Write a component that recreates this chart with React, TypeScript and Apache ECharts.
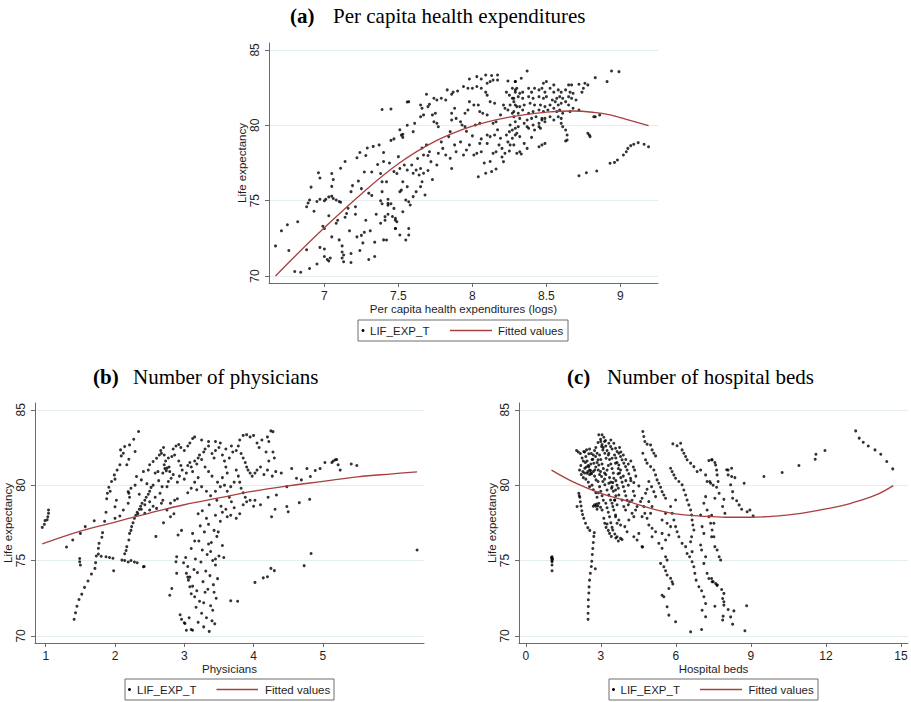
import React, { useEffect, useRef } from 'react';
import * as echarts from 'echarts';

// ---------- Panel (a): per capita health expenditures (logs) ----------
const aPoints: number[][] = [
  [6.67,72.0],[6.71,73.0],[6.75,73.4],[6.76,71.7],[6.8,70.3],[6.82,73.6],[6.84,70.25],[6.88,71.75],[6.88,74.6],[6.89,74.85],[6.9,70.5],[6.9,75.05],[6.91,75.9],[6.93,74.3],[6.96,76.85],[6.97,76.5],[6.97,71.9],[6.95,74.95],[6.97,75.1],[6.99,73.3],[6.95,70.8],
  [7.0,75.0],[7.01,75.1],[7.03,75.25],[7.05,75.3],[7.06,75.15],[7.08,75.05],[7.1,74.95],[7.11,74.9],[7.0,71.3],[7.02,71.1],[7.04,71.2],[7.03,71.0],[7.0,73.15],[7.03,74.0],[7.05,75.95],[7.05,76.8],[7.06,76.4],[7.0,71.8],[7.05,72.6],[7.08,73.5],[7.09,73.7],[7.1,72.4],
  [7.11,77.15],[7.12,71.6],[7.12,71.2],[7.13,70.95],[7.13,71.4],[7.14,77.6],[7.15,74.15],[7.17,73.0],[7.18,71.5],[7.18,75.6],[7.18,70.9],[7.14,73.9],[7.12,72.0],[7.16,74.5],[7.19,76.0],
  [7.21,74.6],[7.21,74.1],[7.22,77.85],[7.23,76.3],[7.24,78.2],[7.25,72.7],[7.26,72.2],[7.27,72.9],[7.28,78.0],[7.29,78.5],[7.3,75.5],[7.27,76.9],[7.28,73.7],[7.22,72.6],[7.25,75.8],[7.3,71.1],[7.24,71.7],
  [7.31,73.0],[7.32,76.9],[7.32,75.35],[7.34,72.25],[7.35,74.1],[7.37,78.7],[7.38,73.5],[7.38,75.0],[7.39,76.25],[7.39,75.6],[7.39,74.8],[7.4,72.4],[7.41,73.7],[7.33,78.6],[7.34,71.3],[7.39,81.05],[7.36,77.4],
  [7.42,76.25],[7.43,74.7],[7.43,75.1],[7.43,74.1],[7.44,77.5],[7.45,74.8],[7.46,73.95],[7.47,79.1],[7.48,73.15],[7.48,73.7],[7.49,76.8],[7.4,78.2],[7.45,79.0],[7.4,77.6],[7.38,76.8],[7.47,76.93],[7.5,77.92],[7.51,77.14],[7.54,77.37],[7.56,77.03],[7.59,77.37],[7.6,76.82],[7.62,77.03],[7.64,76.7],[7.65,77.14],[7.66,76.26],[7.67,76.82],[7.65,75.93],[7.68,75.38],[7.53,76.26],[7.56,75.93],[7.52,75.7],[7.51,75.6],[7.55,75.04],[7.57,74.93],[7.58,74.71],[7.6,75.27],[7.47,74.49],[7.43,74.82],[7.41,73.94],[7.48,73.83],[7.49,73.6],[7.53,74.27],[7.48,73.16],[7.57,73.16],[7.57,72.72],[7.51,72.72],[7.55,72.39],[7.42,72.39],
  [7.51,79.7],[7.52,79.35],[7.56,81.55],[7.56,80.0],[7.53,79.4],[7.53,79.2],[7.57,81.57],[7.61,80.13],[7.6,79.58],[7.45,81.08],
  [7.66,78.5],[7.67,78.03],[7.69,78.7],[7.71,78.25],[7.72,77.59],[7.76,77.37],[7.77,78.14],[7.79,78.9],[7.8,78.47],[7.82,78.03],[7.85,77.81],[7.86,77.14],[7.88,78.7],[7.89,78.25],[7.92,78.9],[7.94,78.03],[7.96,78.36],[7.98,78.7],[8.01,78.03],[8.03,78.14],[8.04,76.59],[8.05,78.8],[8.06,78.25],[8.09,76.82],[8.1,78.8],[8.12,79.25],[8.13,76.93],[8.14,78.14],[8.15,79.36],[8.16,78.25],[8.18,78.7],[8.19,79.14],[8.2,78.47],[8.21,77.59],[8.22,78.14],[8.23,79.36],[8.24,78.9],[8.25,79.58],[8.27,79.14],[8.28,78.7],[8.3,78.14],[8.29,79.8],[8.1,79.36],
  [8.12,77.6],[8.2,77.9],[8.25,78.3],[8.33,78.1],[8.35,78.8],[8.4,79.2],[8.17,79.7],[8.06,79.1],[8.0,79.3],[7.96,79.6],[8.08,77.5],[8.16,77.1],[7.7,77.0],[7.73,76.4],[7.62,75.6],[7.7,78.0],[7.63,77.8],
  [7.65,80.57],[7.67,80.69],[7.73,80.69],[7.75,80.8],[7.74,80.24],[7.76,80.13],[7.77,79.9],[7.86,80.8],[7.88,81.13],[7.89,80.46],[7.92,80.24],[7.93,80.02],[7.95,80.8],[7.97,81.02],[7.98,81.57],[8.01,81.35],[8.04,81.35],[8.05,80.91],[8.07,80.8],[8.1,80.69],[8.12,81.57],[8.15,81.46],[8.16,80.24],[8.19,80.69],[8.21,81.35],[8.22,81.13],[8.24,81.02],[8.27,80.8],[8.3,81.24],[7.86,80.35],[7.85,79.58],[7.84,79.25],[7.95,79.91],[8.02,80.02],[8.05,80.13],[8.14,80.13],
  [7.98,83.07],[8.03,83.23],[8.06,83.07],[8.09,83.34],[8.13,83.3],[8.17,83.34],[8.1,82.79],[8.12,82.9],[8.14,83.0],[8.17,83.0],[8.24,82.94],[8.29,82.9],[8.3,82.46],[7.94,82.57],[7.97,82.46],[8.0,82.46],[8.03,82.57],[8.06,82.46],[8.09,82.2],[8.1,82.0],[7.83,82.35],[7.86,82.06],[7.9,82.28],[7.87,82.2],[7.79,81.8],[7.82,81.68],[7.76,81.68],[7.74,81.8],[7.71,81.4],[7.7,81.24],[7.65,81.35],[7.66,81.13],[8.23,82.2],[8.25,82.0],[8.27,81.8],[8.28,81.57],[8.29,82.2],[7.69,82.06],
  [8.37,83.6],[8.94,83.6],[8.99,83.56],[8.83,83.16],[8.91,82.9],[8.33,83.12],[8.29,82.9],[8.48,82.79],[8.5,82.9],[8.55,82.68],[8.65,82.68],[8.67,82.68],[8.72,82.72],[8.76,82.79],[8.78,82.68],[8.75,82.46],[8.74,82.2],
  [8.27,82.46],[8.29,82.35],[8.32,82.12],[8.34,82.2],[8.38,82.46],[8.4,82.2],[8.42,82.46],[8.45,82.35],[8.47,82.46],[8.49,82.2],[8.525,82.46],[8.55,82.2],[8.58,82.35],[8.6,82.2],[8.63,82.35],[8.66,82.2],[8.68,82.12],
  [8.28,81.79],[8.31,81.9],[8.34,81.79],[8.38,81.9],[8.41,81.79],[8.45,81.9],[8.48,81.79],[8.5,81.9],[8.54,81.68],[8.57,81.79],[8.59,81.9],[8.61,81.79],[8.65,81.9],[8.67,81.79],[8.7,81.68],
  [8.255,81.35],[8.29,81.35],[8.32,81.24],[8.35,81.35],[8.39,81.46],[8.42,81.35],[8.46,81.35],[8.49,81.24],[8.525,81.35],[8.56,81.57],[8.58,81.35],[8.6,81.46],[8.63,81.57],[8.65,81.35],[8.68,81.13],
  [8.28,80.91],[8.31,80.8],[8.34,81.02],[8.38,80.8],[8.41,80.91],[8.45,81.02],[8.48,80.91],[8.51,81.02],[8.55,81.13],[8.57,80.91],[8.59,81.02],[8.61,80.8],[8.66,80.91],[8.72,81.02],[8.82,80.57],[8.86,80.69],[8.83,80.57],
  [8.28,80.57],[8.32,80.46],[8.37,80.35],[8.4,80.46],[8.43,80.57],[8.47,80.46],[8.49,80.24],[8.525,80.57],[8.55,80.35],[8.58,80.57],[8.6,80.46],
  [8.255,80.02],[8.29,80.24],[8.31,79.91],[8.35,80.13],[8.38,79.8],[8.41,80.02],[8.45,80.13],[8.47,80.35],[8.49,80.46],
  [8.27,79.69],[8.3,79.47],[8.32,79.25],[8.29,79.36],[8.37,79.91],[8.42,79.69],[8.45,79.91],[8.46,79.8],
  [8.6,80.13],[8.61,79.91],[8.63,79.69],[8.64,79.36],[8.64,79.03],[8.63,78.96],[8.49,78.8],[8.47,78.7],[8.45,78.58],[8.255,78.7],[8.32,78.25],[8.37,78.47],[8.78,79.47],[8.795,79.25],[8.79,79.36],
  [8.72,76.65],[8.77,76.85],[8.84,76.97],[8.93,77.48],[8.96,77.54],[8.98,77.7],[9.02,78.03],[9.04,78.25],[9.05,78.47],[9.07,78.65],[9.09,78.74],[9.12,78.85],[9.16,78.74],[9.19,78.58]
];
const aFit: number[][] = [
  [6.67,70.0],[6.8,71.3],[7.0,73.2],[7.25,75.45],[7.5,77.45],[7.75,78.95],[8.0,79.95],[8.25,80.55],[8.5,80.87],[8.68,80.95],[8.82,80.86],[8.93,80.69],[9.04,80.4],[9.19,79.98]
];

// ---------- Panel (b): physicians ----------
const bPoints: number[][] = [
  [0.95,77.2],[0.98,77.4],[0.99,77.65],[1.04,78.35],[1.04,78.13],[1.03,77.9],[1.02,77.7],
  [1.3,75.9],[1.39,76.36],[1.5,76.8],[1.57,77.25],[1.7,77.64],
  [1.49,75.14],[1.49,74.92],[1.5,74.7],
  [1.41,71.1],[1.43,71.53],[1.45,71.97],[1.48,72.42],[1.52,72.77],[1.56,73.22],[1.61,73.64],[1.66,74.1],[1.71,74.48],[1.72,74.86],[1.76,75.43],[1.76,75.81],[1.77,76.14],[1.81,76.54],[1.82,76.85],[1.85,77.6],[1.87,78.2],[1.88,79.1],[1.89,79.46],[1.91,79.86],[1.93,79.6],[1.95,80.24],[2.0,80.4],[1.99,80.68],[2.03,81.0],[2.07,81.35],[2.09,81.94],[2.08,82.34],[2.12,82.12],[2.14,82.56],[2.21,82.67],[2.27,83.05],[2.34,83.56],[2.29,82.23],[2.2,81.72],[2.17,81.35],
  [1.73,75.3],[1.8,75.28],[1.87,75.25],[1.92,75.2],[1.97,75.15],[1.98,74.32],
  [2.1,75.03],[2.14,75.0],[2.19,74.9],[2.23,75.0],[2.28,74.9],[2.32,74.85],[2.41,74.59],[2.14,75.45],[2.16,75.67],[2.17,75.92],[2.2,76.36],[2.21,76.8],[2.23,77.0],[2.24,77.25],[2.26,77.5],[2.28,77.8],[2.3,78.0],[2.32,78.2],[2.35,78.4],[2.37,78.6],[2.39,78.8],[2.43,79.0],[2.45,79.2],[2.48,79.4],[2.5,79.6],[2.52,79.85],[2.55,80.0],
  [2.0,77.8],[2.07,77.95],[2.12,78.35],[2.19,78.8],[2.21,79.2],[2.2,79.46],[2.23,79.8],[2.29,80.0],[2.31,80.57],[2.38,80.35],[2.41,80.9],[2.48,81.0],[2.5,81.35],[2.55,81.57],[2.6,81.79],[2.64,82.0],[2.67,82.12],[2.71,82.0],[2.77,81.8],[2.82,81.9],[2.86,82.0],[2.71,81.35],[2.75,81.13],[2.79,80.9],[2.81,80.46],[2.77,80.24],[2.75,79.9],[2.65,79.46],[2.58,79.2],[2.5,78.9],[2.43,78.7],[2.38,78.4],[2.33,78.1],[2.43,78.13],[2.5,78.35],[2.55,78.6],[2.6,78.46],[2.67,78.8],[2.69,79.0],[2.75,78.35],[2.8,78.8],[2.86,79.0],[2.9,79.1],[2.58,80.8],[2.62,80.9],[2.69,80.8],[2.0,78.57],[2.02,79.0],[2.19,79.57],[2.59,76.6],[2.42,74.6],[2.72,81.1],[2.74,80.95],[2.78,81.2],[2.7,77.5],[2.8,77.9],[2.85,78.1],
  [2.66,82.3],[2.7,82.5],[2.73,81.6],[2.84,82.4],[2.88,82.6],[2.63,80.3],[2.68,79.9],[2.84,80.7],[2.46,80.1],[2.35,79.4],[2.92,81.6],[2.95,81.3],
  [2.94,71.4],[2.96,71.1],[3.0,70.87],[3.03,70.38],[3.07,71.2],[3.1,70.43],[2.79,72.7],[2.82,73.15],[2.89,75.25],[2.91,76.69],[2.96,77.0],[2.99,74.85],[3.03,74.15],[3.06,73.7],[3.08,73.26],[3.05,73.9],[3.1,72.8],[2.88,74.92],[2.89,74.15],[3.01,70.82],[3.12,70.38],
  [3.02,75.2],[3.05,74.6],[3.08,73.9],[3.1,75.8],[3.12,73.3],[3.14,74.4],[3.15,72.6],[3.17,71.9],[3.18,73.0],[3.2,70.9],[3.21,76.3],[3.22,72.3],[3.24,74.9],[3.25,71.5],[3.26,75.7],[3.27,73.6],[3.28,70.6],[3.29,76.9],[3.3,72.9],[3.31,74.3],[3.32,71.2],[3.33,75.4],[3.34,73.1],[3.35,77.4],[3.36,70.3],[3.37,74.0],[3.38,72.0],[3.39,76.2],[3.4,71.0],[3.41,75.0],[3.42,73.4],[3.43,77.0],[3.44,70.8],[3.45,74.7],[3.46,72.5],[3.47,76.6],[3.48,73.8],[3.5,75.3],[3.52,77.6],[3.55,76.0],[3.57,75.2],[3.19,74.2],[3.23,77.3],[3.16,75.1],[3.28,72.2],[3.35,76.1],[3.41,71.7],[3.43,72.9],[3.38,75.6],[3.32,77.8],[3.26,78.3],[3.45,78.0],[3.49,76.9],[3.12,76.8],[3.2,78.1],[3.36,78.7],[3.47,79.0],[3.53,78.6],
  [3.67,72.33],[3.77,72.3],[3.45,75.1],[3.15,76.3],
  [3.0,80.4],[3.03,80.8],[3.05,81.3],[3.08,81.5],[3.1,81.2],[3.12,80.9],[3.15,81.6],[3.18,81.4],[3.2,81.8],[3.22,82.0],[3.25,81.7],[3.28,82.2],[3.3,82.4],[3.35,82.6],[3.4,82.1],[3.43,81.8],[3.45,82.3],[3.5,82.5],[3.52,82.8],[3.55,82.0],[3.58,81.6],[3.6,81.2],[3.65,81.8],[3.7,82.2],[3.62,80.8],[3.55,80.5],[3.48,80.2],[3.4,80.6],[3.35,80.9],[3.3,81.2],[3.2,80.5],[3.15,80.2],[3.1,79.8],[3.05,79.5],[3.18,79.7],[3.25,79.9],[3.32,79.6],[3.38,79.3],[3.45,79.6],[3.52,79.9],[3.58,80.0],[3.62,79.6],[3.67,79.9],[3.72,80.2],[3.0,82.3],[3.05,82.6],[3.08,82.8],[3.12,83.1],[3.15,83.2],[2.95,82.5],[2.92,82.7],[2.97,81.0],[2.93,80.6],[2.9,80.2],[3.25,83.0],[3.35,82.9],[3.45,82.9],[3.6,82.4],[3.68,82.6],[3.75,82.3],[3.78,82.6],[3.8,83.0],[3.85,83.3],[3.9,83.35],[3.95,83.2],[3.82,82.1],[3.85,81.8],[3.88,81.5],[3.9,81.2],[3.92,81.0],[3.95,80.8],[3.98,80.6],[4.02,80.8],[4.05,81.0],[4.1,81.2],[4.15,80.7],[4.2,81.0],[4.22,82.9],[4.25,83.6],[4.28,83.55],[4.2,83.2],[4.12,83.0],[4.05,82.8],[4.0,83.3],[4.08,82.5],[4.18,82.2],[4.22,81.6],[4.28,82.2],[4.3,81.8],[4.27,80.6],[4.32,80.9],
  [3.75,81.0],[3.78,80.6],[3.8,80.2],[3.82,79.8],[3.85,79.5],[3.88,79.2],[3.9,78.9],[3.95,79.0],[4.02,79.0],[3.85,78.7],[3.8,78.1],[3.72,78.5],[3.68,78.9],[3.65,79.2],[3.6,78.4],[3.55,78.2],[3.62,77.9],[3.67,78.0],[3.75,77.8],[4.0,78.6],[4.1,78.7],[4.21,79.2],[4.33,79.35],[4.26,77.9],[4.31,78.4],
  [4.4,80.8],[4.48,79.9],[4.55,81.1],[4.62,80.46],[4.69,80.35],[4.77,81.1],[4.82,80.57],[4.89,80.97],[4.96,81.1],[5.03,81.5],[5.13,81.5],[5.18,81.68],[5.22,81.35],[5.25,81.0],[5.41,81.4],[5.49,81.3],[5.15,81.6],[5.2,81.7],
  [4.48,78.58],[4.5,78.24],[4.66,78.84],[4.81,79.06],
  [4.02,73.55],[4.14,73.85],[4.2,73.92],[4.25,74.48],[4.3,74.33],[4.73,74.66],[4.83,75.47],[6.36,75.7]
];
const bFit: number[][] = [
  [0.95,76.1],[1.5,76.95],[2.0,77.55],[2.5,78.15],[3.0,78.7],[3.5,79.15],[4.0,79.6],[4.5,79.95],[5.0,80.25],[5.5,80.55],[6.0,80.75],[6.36,80.88]
];

// ---------- Panel (c): hospital beds ----------
const cPoints: number[][] = [
  [1.05,75.25],[1.05,75.15],[1.05,75.08],[1.05,75.0],[1.05,74.92],[1.03,75.2],[1.07,75.1],[1.05,74.7],[1.05,74.32],
  [2.05,78.58],[2.12,79.46],[2.14,79.3],[2.16,79.2],[2.18,78.9],[2.21,78.62],[2.24,78.3],[2.27,78.05],[2.32,77.8],[2.39,77.47],[2.48,77.18],[2.56,77.0],
  [2.49,71.1],[2.49,71.5],[2.5,71.95],[2.5,72.4],[2.52,72.85],[2.53,73.25],[2.55,73.7],[2.58,74.15],[2.62,74.6],[2.64,74.95],[2.66,75.4],[2.68,75.8],[2.7,76.2],[2.72,76.6],[2.74,76.85],[2.78,74.45],
  [2.32,82.23],[2.43,82.34],[2.52,82.08],[2.36,81.12],[2.45,80.79],[2.52,81.23],[2.59,80.97],[2.63,80.75],[2.68,81.72],[2.72,81.45],[2.76,81.01],[2.79,81.9],[2.85,82.12],[2.89,82.83],[2.92,83.34],[2.99,83.05],[3.05,83.34],[3.12,83.18],[3.19,82.96],[3.03,82.56],[3.08,82.34],[3.16,82.12],[3.21,81.79],[2.89,81.68],[2.92,81.34],[2.99,80.9],[3.03,80.57],[3.08,80.24],[3.16,80.02],[3.25,79.68],[3.32,79.35],[3.39,79.02],[3.45,78.8],[3.52,78.35],[3.59,77.91],[3.65,77.47],[2.81,80.35],[2.89,80.24],
  [3.32,82.78],[3.39,82.56],[3.52,82.78],[3.59,82.45],[3.65,82.23],[3.72,82.12],[3.79,81.9],[3.85,81.68],[3.92,81.46],[3.99,81.23],[4.05,81.01],[4.12,80.75],[4.19,80.46],[4.32,80.17],[4.52,79.95],[3.32,82.12],[3.45,81.79],[3.59,81.46],[3.72,81.34],[3.79,81.01],[3.69,80.75],[3.52,80.46],[3.48,80.17],[3.32,80.13],[3.43,79.79],[3.59,79.68],[3.72,79.35],[3.85,79.02],[3.92,78.58],[3.99,78.35],[3.56,79.02],[3.48,78.58],[3.59,78.02],[3.72,77.69],[3.79,77.36],[3.48,77.03],[3.56,76.76],[3.65,76.58],[3.79,76.47],[3.96,77.25],[4.05,76.91],[4.12,77.69],[4.25,78.13],[4.32,77.91],[4.39,78.35],[4.45,78.58],[4.59,78.91],[4.65,79.13],[4.72,78.58],[4.76,78.13],[4.65,77.91],[4.52,76.8],[4.45,76.36],[4.32,76.58],[4.65,75.92],
  [2.92,78.8],[2.99,78.53],[3.05,78.35],[3.12,77.8],[3.16,77.47],[3.21,77.2],[3.25,77.42],[2.83,78.75],[2.88,78.62],
  [4.68,83.56],[4.72,83.23],[4.76,82.9],[4.85,82.72],[4.99,82.67],[5.05,82.34],[5.12,82.12],[5.19,81.94],[4.68,82.12],[4.79,81.68],[4.85,81.46],[4.99,81.23],[5.12,81.01],[5.19,80.68],[5.25,80.35],[5.32,80.13],[5.39,79.86],[5.45,79.57],[5.52,79.35],[5.59,79.13],[5.19,79.24],[5.12,79.57],[5.03,79.9],[4.92,80.24],[4.85,79.73],[4.79,79.46],[4.92,78.91],[5.05,78.58],[4.99,78.13],[4.85,77.8],[4.92,77.36],[5.05,77.14],[5.19,76.91],[5.05,76.58],[5.32,76.14],[5.45,75.81],[5.59,75.25],[5.65,75.03],[5.39,74.81],[5.52,74.59],[5.59,74.32],[5.65,74.04],[5.79,73.82],[5.85,73.59],[5.88,73.44],[5.72,73.15],[5.45,72.7],[5.52,72.6],[5.65,71.93],[5.72,71.38],[5.99,70.94],[6.59,70.27],
  [5.79,81.12],[5.85,80.9],[5.92,80.68],[5.99,80.46],[6.12,80.24],[6.25,80.02],[6.32,79.68],[6.39,79.35],[6.45,79.02],[6.52,78.69],[6.59,78.35],[6.63,78.02],[6.65,77.69],[6.68,77.36],[6.72,77.03],[6.63,76.58],[6.59,76.25],[6.65,75.59],[6.55,75.25],[6.65,74.92],[6.72,74.59],[6.76,74.15],[6.81,73.7],[6.92,73.26],[7.03,73.0],[7.12,72.6],[7.19,72.15],[7.05,71.7],[7.19,71.27],[7.03,70.43],
  [5.88,82.74],[6.05,82.61],[6.19,82.78],[6.25,82.34],[6.32,82.12],[6.39,81.9],[6.45,81.68],[6.59,81.46],[6.72,81.23],[6.85,80.9],[6.99,81.01],[7.19,80.68],[7.32,81.63],[7.45,81.68],[7.59,81.34],[7.39,80.13],[7.25,80.24],[7.19,79.24],[7.12,78.8],[7.25,78.35],[7.32,77.91],[7.39,77.47],[7.45,77.03],[7.52,76.58],[6.99,78.02],[7.05,77.25],[7.12,76.8],[6.99,76.03],[7.03,75.7],[7.19,75.25],[7.12,74.81],[7.25,74.15],[7.32,73.81],[7.45,73.59],[7.59,73.48],[7.65,73.37],
  [5.99,79.02],[5.79,78.58],[5.85,78.13],[5.92,77.69],[5.99,77.25],[6.05,76.91],[6.12,76.58],[6.25,76.14],[6.39,75.92],[6.45,75.47],[5.59,78.13],[5.45,77.69],[5.65,77.47],[5.79,77.25],[5.45,76.8],[5.59,76.36],[5.72,76.69],[4.67,75.9],
  [2.35,82.2],[2.4,81.9],[2.45,81.6],[2.5,81.3],[2.55,81.0],[2.6,80.8],[2.38,81.5],[2.42,81.2],[2.48,80.9],[2.55,80.7],[2.6,81.4],[2.65,81.7],[2.7,82.0],[2.75,82.3],[2.8,82.5],[2.62,82.1],[2.55,82.4],[2.7,80.9],[2.75,80.6],[2.8,81.2],[2.85,81.5],[2.9,81.0],[2.95,80.7],[2.95,82.0],[3.0,81.7],[3.05,81.4],[3.1,81.1],[3.15,80.8],[3.0,82.9],[3.05,82.7],[3.1,82.5],[3.15,82.9],[3.2,82.6],[3.25,82.3],[3.3,82.0],[3.35,81.7],[3.4,81.4],[3.45,81.1],[3.5,80.8],[3.3,81.3],[3.25,81.0],[3.2,80.7],[3.15,80.4],[3.35,80.5],[3.4,80.2],[3.45,79.9],[3.5,79.6],[3.6,80.3],[3.65,80.0],[3.7,79.8],[3.4,83.0],[3.45,82.4],[3.55,82.0],[3.6,81.8],[3.65,81.5],[3.7,81.1],[3.75,80.8],[3.8,80.5],[3.85,80.2],[3.9,79.9],[3.95,79.6],[4.0,79.3],[4.05,79.0],[4.1,78.7],[3.75,82.5],[3.8,82.2],[3.9,82.0],[4.0,81.7],[4.1,81.4],[4.2,81.6],[4.3,81.2],[4.35,81.0],[4.4,80.6],[4.2,80.3],[4.1,80.0],[4.0,80.3],[3.9,80.6],[4.3,79.6],[4.35,79.3],[4.25,79.0],[4.15,78.9],[3.6,79.3],[3.55,79.0],[3.65,78.7],
  [2.03,82.3],[2.1,82.2],[2.18,82.1],[2.25,81.8],[2.3,81.6],[2.2,81.3],[2.15,81.0],[2.22,80.7],[2.28,80.9],[2.35,80.8],[2.3,80.5],[2.4,80.4],[2.5,80.2],[2.55,79.9],[2.65,80.0],[2.7,79.7],[2.8,79.5],[2.85,79.2],[2.9,79.5],[2.95,79.9],[3.0,79.6],[3.05,79.3],[3.1,79.0],[3.2,78.8],[3.25,78.5],[3.3,78.2],[3.35,77.9],[3.4,77.5],[3.45,77.2],[3.3,77.0],[3.35,76.8],[3.42,76.6],[3.6,76.5],[3.7,76.3],[3.85,76.4],[2.8,78.6],[2.85,78.4],[2.75,78.7],[2.7,78.6],
  [7.43,81.68],[7.56,81.5],[7.63,81.0],[7.65,80.68],[7.69,80.24],[7.49,80.0],[7.36,80.24],[7.63,79.86],[7.73,79.46],[7.56,79.13],[7.92,79.06],[7.87,78.58],[7.96,78.13],[7.43,78.0],[7.52,77.47],[7.43,76.58],[7.56,75.92],[7.65,75.7],[7.73,75.25],[7.79,75.03],[7.43,73.81],[7.49,73.6],[7.65,73.37],[7.83,73.08],[7.92,72.82],[7.87,72.48],[7.92,72.26],[7.92,72.04],[8.09,71.75],[7.56,71.97],[7.89,71.31],[7.87,71.05],[8.19,71.26],[8.27,70.78],[8.32,71.66],[8.83,72.0],[8.76,70.34],
  [8.03,81.02],[8.09,81.0],[8.23,81.12],[8.09,80.68],[8.23,80.57],[8.36,80.5],[8.19,80.02],[8.27,79.57],[8.27,79.13],[8.43,78.97],[8.53,78.69],[8.63,78.4],[8.85,78.24],[8.96,78.35],[9.09,77.96],[8.73,80.13],
  [9.52,80.57],[10.25,80.84],[10.92,81.3],[11.57,81.72],[11.6,82.05],[11.96,82.3],
  [13.19,83.6],[13.33,83.12],[13.49,82.85],[13.69,82.6],[13.96,82.34],[14.19,82.05],[14.43,81.57],[14.67,81.08]
];
const cFit: number[][] = [
  [1.03,81.0],[2.0,80.13],[3.0,79.46],[4.0,78.97],[5.0,78.46],[6.0,78.09],[7.0,77.95],[8.0,77.87],[9.0,77.87],[10.0,77.95],[11.0,78.13],[12.0,78.42],[13.0,78.8],[14.0,79.35],[14.69,79.97]
];

const aTicks = [7, 7.5, 8, 8.5, 9];
const bTicks = [1, 2, 3, 4, 5];
const cTicks = [0, 3, 6, 9, 12, 15];
const yTicks = [70, 75, 80, 85];

const SANS = "'Liberation Sans', Arial, sans-serif";
const SERIF = "'Liberation Serif', 'Times New Roman', serif";
const AXIS_COLOR = '#6b6b6b';
const TEXT_COLOR = '#1e1e1e';
const GRID_COLOR = '#e4eef0';
const FIT_COLOR = '#a8403f';

export default function App() {
  const ref = useRef<HTMLDivElement>(null);

  useEffect(() => {
    if (!ref.current) return;
    const chart = echarts.init(ref.current, null, { renderer: 'svg' });

    const panels = [
      { left: 269, top: 43, width: 389, height: 240, xMin: 6.626, xMax: 9.254, yMin: 69.54, yMax: 85.46, ticks: aTicks, xName: 'Per capita health expenditures (logs)', pts: aPoints, fit: aFit },
      { left: 35, top: 403, width: 389, height: 240, xMin: 0.845, xMax: 6.46, yMin: 69.53, yMax: 85.45, ticks: bTicks, xName: 'Physicians', pts: bPoints, fit: bFit },
      { left: 519, top: 403, width: 389, height: 240, xMin: -0.27, xMax: 15.28, yMin: 69.53, yMax: 85.45, ticks: cTicks, xName: 'Hospital beds', pts: cPoints, fit: cFit },
    ];

    const grid = panels.map(p => ({ left: p.left, top: p.top, width: p.width, height: p.height, containLabel: false }));
    const xAxis = panels.map((p, i) => ({
      type: 'value', gridIndex: i, min: p.xMin, max: p.xMax,
      name: p.xName, nameLocation: 'middle', nameGap: 18,
      nameTextStyle: { fontFamily: SANS, fontSize: 11.5, color: TEXT_COLOR },
      axisLine: { show: true, onZero: false, lineStyle: { color: AXIS_COLOR, width: 1 } },
      axisTick: { show: true, length: 4, customValues: p.ticks, lineStyle: { color: AXIS_COLOR, width: 1 } },
      axisLabel: { customValues: p.ticks, fontFamily: SANS, fontSize: 12, color: TEXT_COLOR, margin: 7 },
      splitLine: { show: false },
    }));
    const yAxis = panels.map((p, i) => ({
      type: 'value', gridIndex: i, min: p.yMin, max: p.yMax,
      name: 'Life expectancy', nameLocation: 'middle', nameGap: 19, nameRotate: 90,
      nameTextStyle: { fontFamily: SANS, fontSize: 11.5, color: TEXT_COLOR },
      axisLine: { show: true, onZero: false, lineStyle: { color: AXIS_COLOR, width: 1 } },
      axisTick: { show: true, length: 4, customValues: yTicks, lineStyle: { color: AXIS_COLOR, width: 1 } },
      axisLabel: { customValues: yTicks, rotate: 90, fontFamily: SANS, fontSize: 12, color: TEXT_COLOR, margin: 8 },
      splitLine: { show: true, lineStyle: { color: GRID_COLOR, width: 1 } },
    }));

    const series: any[] = [];
    panels.forEach((p, i) => {
      series.push({
        type: 'scatter', name: 'LIF_EXP_T', xAxisIndex: i, yAxisIndex: i, data: p.pts,
        symbol: 'circle', symbolSize: 3, itemStyle: { color: '#000' }, silent: true,
      });
      series.push({
        type: 'line', name: 'Fitted values', xAxisIndex: i, yAxisIndex: i, data: p.fit,
        smooth: 0.4, showSymbol: false, lineStyle: { color: FIT_COLOR, width: 1.3 }, silent: true,
      });
    });

    const titles = [
      { tag: '(a)', tagX: 290, text: 'Per capita health expenditures', textX: 333, y: 16 },
      { tag: '(b)', tagX: 93, text: 'Number of physicians', textX: 133, y: 377 },
      { tag: '(c)', tagX: 567, text: 'Number of hospital beds', textX: 607, y: 377 },
    ];
    const legends = [
      { bx: 358, by: 320, bw: 210, dot: 363, t1: 370, l1: 450, l2: 492, t2: 498 },
      { bx: 125, by: 679, bw: 209, dot: 129.5, t1: 137, l1: 216.5, l2: 258, t2: 265 },
      { bx: 609, by: 679, bw: 209, dot: 613.5, t1: 620.5, l1: 700, l2: 742, t2: 748.5 },
    ];

    const graphic: any[] = [];
    titles.forEach(t => {
      graphic.push({ type: 'text', x: t.tagX, y: t.y, style: { text: t.tag, font: `bold 21px ${SERIF}`, fill: '#000', verticalAlign: 'middle' } });
      graphic.push({ type: 'text', x: t.textX, y: t.y, style: { text: t.text, font: `21px ${SERIF}`, fill: '#000', verticalAlign: 'middle' } });
    });
    legends.forEach(l => {
      const cy = l.by + 10.5;
      graphic.push({ type: 'rect', shape: { x: l.bx, y: l.by, width: l.bw, height: 21 }, style: { fill: '#fff', stroke: '#6e6e6e', lineWidth: 1 } });
      graphic.push({ type: 'circle', shape: { cx: l.dot, cy: cy, r: 1.5 }, style: { fill: '#000' } });
      graphic.push({ type: 'text', x: l.t1, y: cy, style: { text: 'LIF_EXP_T', font: `11.5px ${SANS}`, fill: TEXT_COLOR, verticalAlign: 'middle' } });
      graphic.push({ type: 'line', shape: { x1: l.l1, y1: cy, x2: l.l2, y2: cy }, style: { stroke: FIT_COLOR, lineWidth: 1.3 } });
      graphic.push({ type: 'text', x: l.t2, y: cy, style: { text: 'Fitted values', font: `11.5px ${SANS}`, fill: TEXT_COLOR, verticalAlign: 'middle' } });
    });

    chart.setOption({
      animation: false,
      backgroundColor: '#fff',
      grid, xAxis, yAxis, series, graphic,
    });
    return () => chart.dispose();
  }, []);

  return <div ref={ref} style={{ position: 'fixed', left: 0, top: 0, width: 911, height: 702, background: '#fff' }} />;
}
